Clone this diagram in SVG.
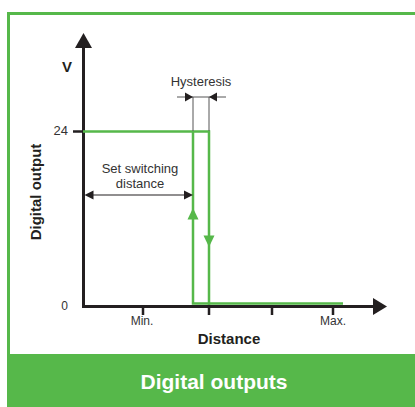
<svg xmlns="http://www.w3.org/2000/svg" width="415" height="407" viewBox="0 0 415 407">
<defs>
<style>
.lbl{font-family:"Liberation Sans",Arial,sans-serif;fill:#333;}
.b{font-weight:bold;fill:#231f20;}
.axis{stroke:#231f20;stroke-width:3;fill:none;}
.tick{stroke:#231f20;stroke-width:2.5;fill:none;}
.step{stroke:#56b84a;stroke-width:2.5;fill:none;}
.dim{stroke:#555;stroke-width:1;fill:none;}
.ah{fill:#231f20;}
.gh{fill:#56b84a;}
</style>
</defs>
<rect width="415" height="407" fill="#fff"/>
<g id="frame">
<path d="M8.5 354 V13.5 H416" fill="none" stroke="#56b84a" stroke-width="3"/>
<rect x="7" y="354" width="409" height="53" fill="#56b84a"/>
<text x="214" y="389" text-anchor="middle" font-family="'Liberation Sans',Arial,sans-serif" font-weight="bold" font-size="21" fill="#fff">Digital outputs</text>
</g>
<g id="axes">
<path class="axis" d="M83.5 47 V306.5 H374"/>
<polygon class="ah" points="83.5,33 75,48 92,48"/>
<polygon class="ah" points="387,306.5 373,298 373,315"/>
<path class="tick" d="M73 131.5 H83 M143 306 V315 M209 306 V315 M272 306 V315 M333 306 V315"/>
<text class="lbl b" x="67" y="72" text-anchor="middle" font-size="15">V</text>
<text class="lbl" x="68" y="135" text-anchor="end" font-size="13">24</text>
<text class="lbl" x="68" y="310" text-anchor="end" font-size="12">0</text>
<text class="lbl" x="142" y="325" text-anchor="middle" font-size="12">Min.</text>
<text class="lbl" x="333" y="325" text-anchor="middle" font-size="12">Max.</text>
<text class="lbl b" x="229" y="344" text-anchor="middle" font-size="15">Distance</text>
<text class="lbl b" transform="translate(41 192) rotate(-90)" text-anchor="middle" font-size="15">Digital output</text>
</g>
<g id="connectors">
<path class="step" d="M83 131.5 H209 V305 M193 131.5 V303.5 H343"/>
<polygon class="gh" points="193,208 187.5,219.5 198.5,219.5"/>
<polygon class="gh" points="209,247 203.5,235.5 214.5,235.5"/>
<path class="dim" d="M193 97 V131 M209 97 V131 M177 97 H226"/>
<polygon class="ah" points="193,97 185,92.5 185,101.5"/>
<polygon class="ah" points="209,97 217,92.5 217,101.5"/>
<path d="M92 195 H185" stroke="#231f20" stroke-width="1.2" fill="none"/>
<polygon class="ah" points="84.5,195 93.5,190.5 93.5,199.5"/>
<polygon class="ah" points="193,195 184,190.5 184,199.5"/>
</g>
<g id="labels">
<text class="lbl" x="201" y="86" text-anchor="middle" font-size="13">Hysteresis</text>
<text class="lbl" x="140" y="173" text-anchor="middle" font-size="13">Set switching</text>
<text class="lbl" x="140" y="188" text-anchor="middle" font-size="13">distance</text>
</g>
</svg>
